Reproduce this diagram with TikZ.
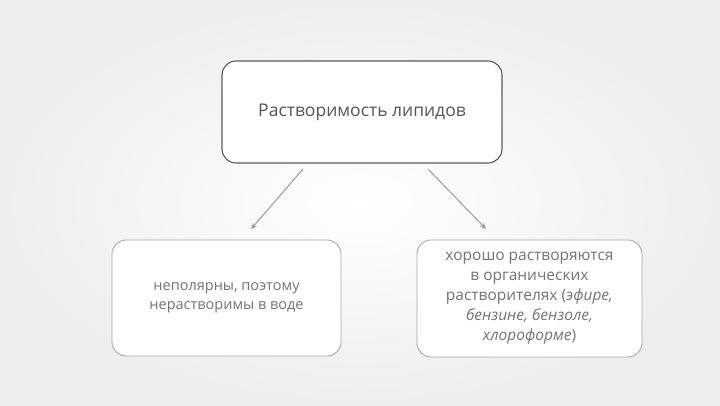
\documentclass[tikz,border=0pt]{standalone}
\usepackage{fontspec}
\setmainfont{Open Sans}
\usetikzlibrary{arrows.meta}
\definecolor{bgedge}{HTML}{EEEEEE}
\definecolor{topline}{HTML}{5A5A5A}
\definecolor{subline}{HTML}{A8A8A8}
\definecolor{toptext}{HTML}{555555}
\definecolor{subtext}{HTML}{747474}
\definecolor{arrowc}{HTML}{9A9A9A}
\tikzset{
  topbox/.style={draw=topline, line width=1.1pt, rounded corners=14pt, fill=white,
    minimum width=280pt, minimum height=102pt, inner sep=0pt, text=toptext,
    font=\fontsize{17.5}{20}\selectfont},
  subbox/.style={draw=subline, line width=0.9pt, rounded corners=14pt, fill=white,
    inner sep=0pt, text=subtext, align=center},
  conn/.style={draw=arrowc, line width=1pt, -{Stealth[length=6pt,width=5pt]}}
}
\begin{document}
\begin{tikzpicture}[x=1pt,y=-1pt]
\useasboundingbox (0,0) rectangle (720,405);
\shade[inner color=white, outer color=bgedge] (0,0) rectangle (720,405);
\node[topbox] (top) at (362,112) {Растворимость липидов};
\node[subbox, minimum width=229pt, minimum height=116pt,
  font=\fontsize{14.5}{19}\selectfont] (left) at (226.5,298)
  {неполярны, поэтому\\нерастворимы в воде};
\node[subbox, minimum width=225pt, minimum height=117pt,
  font=\fontsize{15.5}{20}\selectfont] (right) at (529.5,298.5)
  {хорошо растворяются\\в органических\\растворителях (\textit{эфире,}\\\textit{бензине, бензоле,}\\\textit{хлороформе})};
\coordinate (ls) at (303,169);
\coordinate (le) at (251,229);
\coordinate (rs) at (428,169);
\coordinate (re) at (486,229);
\draw[conn] (ls) -- (le);
\draw[conn] (rs) -- (re);
\end{tikzpicture}
\end{document}
